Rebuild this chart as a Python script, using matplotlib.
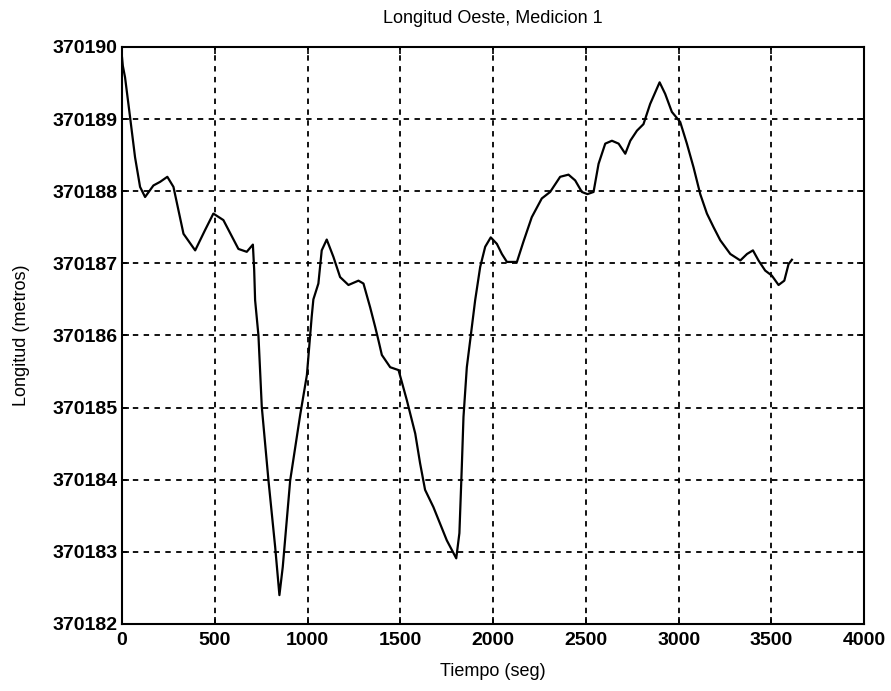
import matplotlib
matplotlib.use("Agg")
import matplotlib.pyplot as plt

# tiempo (seg) y longitud (metros)
tiempo = [0, 4, 16, 43, 70, 97, 124, 169, 205, 244, 277, 331, 394, 447, 492,
          546, 627, 672, 705, 712, 717, 735, 753, 789, 825, 848, 866, 906, 960,
          996, 1022, 1031, 1058, 1076, 1103, 1139, 1175, 1220, 1274, 1301, 1337,
          1364, 1382, 1400, 1445, 1490, 1535, 1580, 1606, 1633, 1678, 1714, 1750,
          1801, 1818, 1831, 1840, 1858, 1876, 1903, 1930, 1957, 1987, 2020, 2047,
          2074, 2128, 2163, 2208, 2262, 2307, 2361, 2406, 2442, 2478, 2508, 2541,
          2568, 2604, 2640, 2676, 2712, 2739, 2775, 2810, 2846, 2897, 2927, 2963,
          3008, 3044, 3080, 3116, 3152, 3188, 3224, 3278, 3332, 3368, 3400, 3430,
          3466, 3502, 3538, 3569, 3592, 3610]
longitud = [370189.85, 370189.74, 370189.58, 370189.03, 370188.47, 370188.06,
            370187.92, 370188.08, 370188.13, 370188.20, 370188.06, 370187.41,
            370187.18, 370187.46, 370187.69, 370187.60, 370187.20, 370187.16,
            370187.26, 370186.91, 370186.49, 370186.00, 370185.01, 370183.99,
            370183.07, 370182.40, 370182.79, 370183.99, 370184.90, 370185.45,
            370186.26, 370186.50, 370186.72, 370187.18, 370187.33, 370187.09,
            370186.81, 370186.70, 370186.76, 370186.72, 370186.39, 370186.12,
            370185.93, 370185.73, 370185.56, 370185.52, 370185.10, 370184.64,
            370184.23, 370183.86, 370183.62, 370183.39, 370183.16, 370182.91,
            370183.26, 370184.18, 370184.87, 370185.56, 370185.93, 370186.49,
            370186.95, 370187.23, 370187.36, 370187.27, 370187.13, 370187.02,
            370187.02, 370187.30, 370187.64, 370187.90, 370187.99, 370188.20,
            370188.23, 370188.15, 370187.99, 370187.96, 370187.99, 370188.38,
            370188.66, 370188.70, 370188.66, 370188.52, 370188.70, 370188.84,
            370188.93, 370189.21, 370189.51, 370189.35, 370189.10, 370188.96,
            370188.66, 370188.33, 370187.96, 370187.69, 370187.50, 370187.32,
            370187.13, 370187.04, 370187.13, 370187.18, 370187.04, 370186.90,
            370186.83, 370186.70, 370186.76, 370186.99, 370187.05]

xticks = [0, 500, 1000, 1500, 2000, 2500, 3000, 3500, 4000]
yticks = list(range(370182, 370191))

plt.rcParams['font.family'] = ['Liberation Sans', 'DejaVu Sans']

fig = plt.figure(figsize=(8.91, 6.91), dpi=100)
ax = fig.add_axes([0.137, 0.097, 0.833, 0.835])

ax.plot(tiempo, longitud, color='black', lw=1.6)

ax.set_xlim(0, 4000)
ax.set_ylim(370182, 370190)
ax.set_xticks(xticks)
ax.set_yticks(yticks)
ax.set_yticklabels([str(v) for v in yticks])
ax.tick_params(direction='in', top=True, right=True, length=5, width=1.2,
               labelsize=14)
ax.tick_params(axis='x', pad=6)
for lab in ax.get_xticklabels() + ax.get_yticklabels():
    lab.set_fontweight('bold')
for s in ax.spines.values():
    s.set_linewidth(1.5)

ax.grid(True, color='black', ls=(0, (3, 3)), lw=1.3)

ax.set_title('Longitud Oeste, Medicion 1', fontsize=13, pad=17)
ax.set_xlabel('Tiempo (seg)', fontsize=13, labelpad=10)
ax.set_ylabel('Longitud (metros)', fontsize=13, labelpad=16)

plt.savefig('out.png', dpi=100)
